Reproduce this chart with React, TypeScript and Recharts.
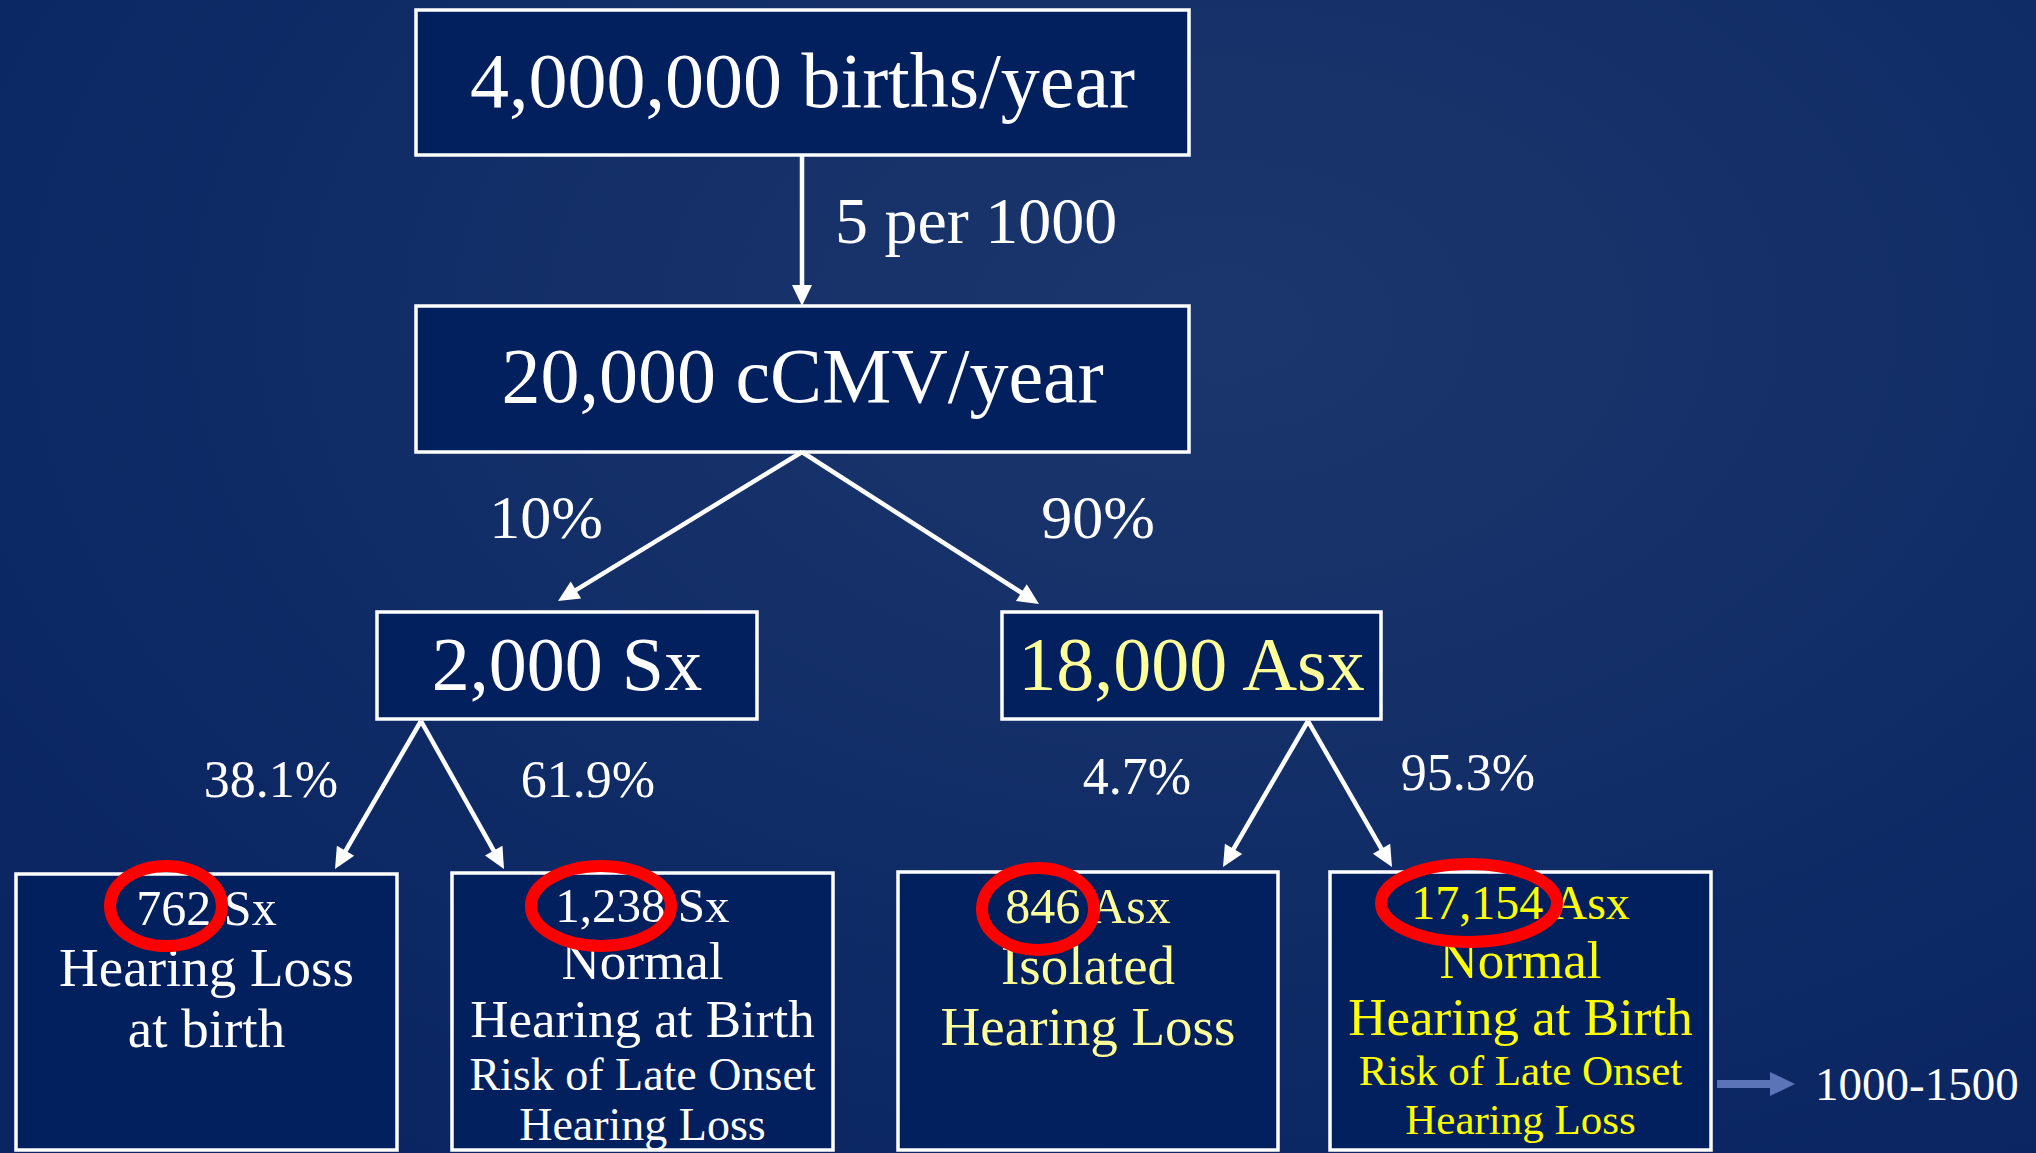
import React from 'react';
import {
  ScatterChart,
  Scatter,
  XAxis,
  YAxis,
  ReferenceArea,
  ReferenceLine,
} from 'recharts';

// slide values
const counts = [4000000, 20000, 2000, 18000, 762, 1238, 846, 17154];
const groups = ['births/year', 'cCMV/year', 'Sx', 'Asx', 'Sx', 'Sx', 'Asx', 'Asx'];
const outcomeLines = [
  [],
  [],
  [],
  [],
  ['Hearing Loss', 'at birth'],
  ['Normal', 'Hearing at Birth', 'Risk of Late Onset', 'Hearing Loss'],
  ['Isolated', 'Hearing Loss'],
  ['Normal', 'Hearing at Birth', 'Risk of Late Onset', 'Hearing Loss'],
];
const branchRates = ['5 per 1000', '10%', '90%', '38.1%', '61.9%', '4.7%', '95.3%'];
const circledNodes = [4, 5, 6, 7];
const lateOnsetRange = '1000-1500';

const W = 2036;
const H = 1153;
const FONT = "'Book Antiqua', 'Palatino Linotype', Palatino, 'Liberation Serif', serif";

// layout (slide units)
const boxLayout = [
  { x1: 416, x2: 1189, y1: 10, y2: 155 },
  { x1: 416, x2: 1189, y1: 306, y2: 452 },
  { x1: 377, x2: 757, y1: 612, y2: 719 },
  { x1: 1002, x2: 1381, y1: 612, y2: 719 },
  { x1: 16, x2: 397, y1: 874, y2: 1150 },
  { x1: 452, x2: 833, y1: 873, y2: 1150 },
  { x1: 898, x2: 1278, y1: 872, y2: 1150 },
  { x1: 1330, x2: 1711, y1: 872, y2: 1150 },
];
const lineLayout = [
  [{ y: 107, size: 78 }],
  [{ y: 402, size: 78 }],
  [{ y: 690, size: 76 }],
  [{ y: 690, size: 76 }],
  [{ y: 925, size: 50 }, { y: 986, size: 55 }, { y: 1047, size: 55 }],
  [{ y: 922, size: 49 }, { y: 979, size: 53 }, { y: 1037, size: 53 }, { y: 1090, size: 46 }, { y: 1140, size: 46 }],
  [{ y: 923, size: 50 }, { y: 984, size: 55 }, { y: 1045, size: 55 }],
  [{ y: 919, size: 48 }, { y: 978, size: 53 }, { y: 1035, size: 53 }, { y: 1085, size: 43 }, { y: 1134, size: 43 }],
];
const boxColors = ['#ffffff', '#ffffff', '#ffffff', '#ffff99', '#ffffff', '#ffffff', '#ffff99', '#ffff00'];

const edgeLayout = [
  { x1: 802, y1: 155, x2: 802, y2: 306 },
  { x1: 802, y1: 452, x2: 558, y2: 601 },
  { x1: 802, y1: 452, x2: 1039, y2: 604 },
  { x1: 421, y1: 721, x2: 335, y2: 869 },
  { x1: 421, y1: 721, x2: 504, y2: 869 },
  { x1: 1308, y1: 721, x2: 1223, y2: 867 },
  { x1: 1308, y1: 721, x2: 1392, y2: 867 },
];
const edgeLabelLayout = [
  { x: 835, y: 243, size: 66, anchor: 'start' },
  { x: 546, y: 538, size: 62, anchor: 'middle' },
  { x: 1098, y: 538, size: 62, anchor: 'middle' },
  { x: 271, y: 797, size: 52, anchor: 'middle' },
  { x: 588, y: 797, size: 52, anchor: 'middle' },
  { x: 1137, y: 794, size: 52, anchor: 'middle' },
  { x: 1468, y: 790, size: 52, anchor: 'middle' },
];
const circleLayout = [
  { x: 166, y: 906, rx: 56, ry: 40 },
  { x: 601, y: 906, rx: 70, ry: 40 },
  { x: 1038, y: 909, rx: 56, ry: 41 },
  { x: 1469, y: 903, rx: 88, ry: 39 },
];

const textItems: any[] = [];
counts.forEach((c, i) => {
  const b = boxLayout[i];
  const cx = (b.x1 + b.x2) / 2;
  const lines = [`${c.toLocaleString('en-US')} ${groups[i]}`, ...outcomeLines[i]];
  lines.forEach((t, j) => {
    const l = lineLayout[i][j];
    textItems.push({ x: cx, y: l.y, text: t, size: l.size, fill: boxColors[i], anchor: 'middle' });
  });
});
branchRates.forEach((r, i) => {
  const l = edgeLabelLayout[i];
  textItems.push({ x: l.x, y: l.y, text: r, size: l.size, fill: '#ffffff', anchor: l.anchor });
});
textItems.push({ x: 1815, y: 1100, text: lateOnsetRange, size: 47, fill: '#ffffff', anchor: 'start' });

const circleItems = circledNodes.map((n, i) => ({ ...circleLayout[i], value: counts[n] }));

const ArrowShape = (props: any) => {
  const { x1, y1, x2, y2 } = props;
  const dx = x2 - x1;
  const dy = y2 - y1;
  const len = Math.sqrt(dx * dx + dy * dy);
  const ux = dx / len;
  const uy = dy / len;
  const head = 21;
  const half = 10;
  const bx = x2 - ux * head;
  const by = y2 - uy * head;
  return (
    <g>
      <line x1={x1} y1={y1} x2={bx + ux * 2} y2={by + uy * 2} stroke="#ffffff" strokeWidth={4.5} />
      <polygon
        points={`${x2},${y2} ${bx - uy * half},${by + ux * half} ${bx + uy * half},${by - ux * half}`}
        fill="#ffffff"
      />
    </g>
  );
};

const BlockArrow = (props: any) => {
  const { x1, y1, x2 } = props;
  const head = 25;
  const shaft = 4;
  const half = 12;
  const hx = x2 - head;
  return (
    <polygon
      points={`${x1},${y1 - shaft} ${hx},${y1 - shaft} ${hx},${y1 - half} ${x2},${y1} ${hx},${y1 + half} ${hx},${y1 + shaft} ${x1},${y1 + shaft}`}
      fill="#5b74b8"
    />
  );
};

const TextShape = (props: any) => {
  const { cx, cy, payload } = props;
  return (
    <text
      x={cx}
      y={cy}
      fill={payload.fill}
      fontSize={payload.size}
      fontFamily={FONT}
      textAnchor={payload.anchor}
    >
      {payload.text}
    </text>
  );
};

const EllipseShape = (props: any) => {
  const { cx, cy, payload } = props;
  return <ellipse cx={cx} cy={cy} rx={payload.rx} ry={payload.ry} fill="none" stroke="#ff0000" strokeWidth={12} />;
};

const App: React.FC = () => {
  return (
    <div
      style={{
        position: 'absolute',
        left: 0,
        top: 0,
        width: W,
        height: H,
        background:
          'radial-gradient(ellipse 75% 85% at 60% 28%, #1b366c 0%, #163169 35%, #0f2b66 65%, #0a2561 100%)',
      }}
    >
      <ScatterChart width={W} height={H} margin={{ top: 0, right: 0, bottom: 0, left: 0 }}>
        <XAxis type="number" dataKey="x" domain={[0, W]} hide allowDataOverflow />
        <YAxis type="number" dataKey="y" domain={[0, H]} reversed hide allowDataOverflow />
        {boxLayout.map((b, i) => (
          <ReferenceArea
            key={`box-${i}`}
            x1={b.x1}
            x2={b.x2}
            y1={b.y1}
            y2={b.y2}
            fill="#021f5e"
            fillOpacity={1}
            stroke="#ffffff"
            strokeWidth={3.5}
            ifOverflow="visible"
          />
        ))}
        {edgeLayout.map((e, i) => (
          <ReferenceLine
            key={`edge-${i}`}
            segment={[
              { x: e.x1, y: e.y1 },
              { x: e.x2, y: e.y2 },
            ]}
            ifOverflow="visible"
            shape={(p: any) => <ArrowShape {...p} />}
          />
        ))}
        <ReferenceLine
          segment={[
            { x: 1717, y: 1084 },
            { x: 1795, y: 1084 },
          ]}
          ifOverflow="visible"
          shape={(p: any) => <BlockArrow {...p} />}
        />
        <Scatter data={textItems} isAnimationActive={false} shape={(p: any) => <TextShape {...p} />} />
        <Scatter data={circleItems} isAnimationActive={false} shape={(p: any) => <EllipseShape {...p} />} />
      </ScatterChart>
    </div>
  );
};

export default App;
